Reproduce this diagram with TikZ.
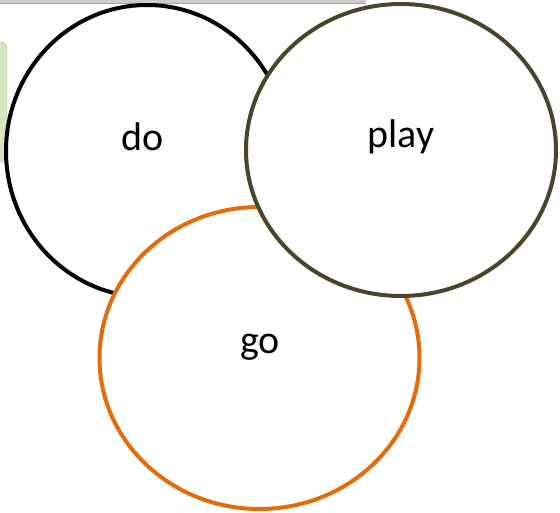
\documentclass[tikz,border=0pt]{standalone}
\usepackage{fontspec}
\setmainfont{Carlito}
\usepackage{tikz}
\usetikzlibrary{shapes,positioning}

\definecolor{olivedark}{RGB}{74,68,42}
\definecolor{orangeacc}{RGB}{228,108,10}
\definecolor{greentab}{RGB}{215,228,189}

\begin{document}
\begin{tikzpicture}[x=1pt,y=-1pt,
    ring/.style={ellipse, draw, fill=white, line width=4pt, inner sep=0pt},
    word/.style={font=\fontsize{40}{44}\selectfont}]
\useasboundingbox (0,0) rectangle (560,513);

% bits of the window behind
\fill[gray!40] (0,0) rectangle (366,4);
\draw[gray!70, line width=1pt] (0,3.5) -- (366,3.5);
\filldraw[fill=greentab, draw=greentab!80!black, rounded corners=6pt] (-12,42) rectangle (7,162);

% the three circles
\node[ring, draw=black, minimum width=282pt, minimum height=292pt] (doRing) at (147,151) {};
\node[ring, draw=orangeacc, minimum width=320pt, minimum height=302pt] (goRing) at (259.5,358) {};
\node[ring, draw=olivedark, minimum width=310pt, minimum height=292pt] (playRing) at (401,150) {};

\node[word] (doText) at (143,137) {do};
\node[word] (playText) at (401,137) {play};
\node[word] (goText) at (260,347) {go};
\end{tikzpicture}
\end{document}
